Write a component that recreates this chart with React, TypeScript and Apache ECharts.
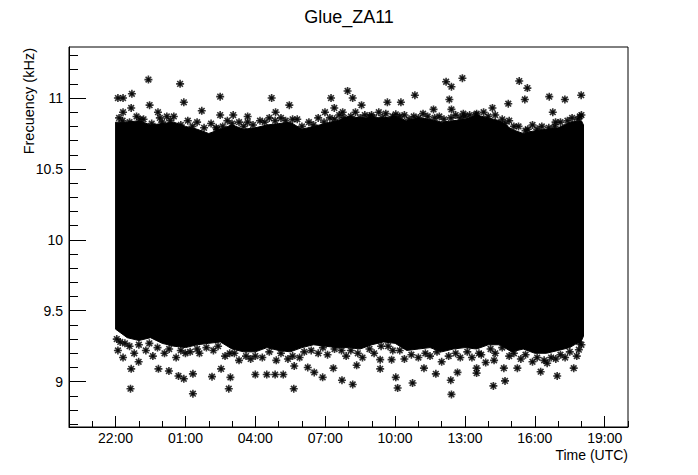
import React, { useEffect, useRef } from "react";
import * as echarts from "echarts";

const titleText = "Glue_ZA11";
const yAxisTitle = "Frecuency (kHz)";
const xAxisTitle = "Time (UTC)";

// hours counted from 00:00 of the first day (22 = 22:00, 25 = 01:00 next day)
const xRange = [20, 44];
const yRange = [8.68, 11.36];
const xMajorTicks = [22, 25, 28, 31, 34, 37, 40, 43];
const yMajorTicks = [9, 9.5, 10, 10.5, 11];
const yMinorTicks = [
  8.7, 8.8, 8.9, 9.1, 9.2, 9.3, 9.4, 9.6, 9.7, 9.8, 9.9, 10.1, 10.2, 10.3,
  10.4, 10.6, 10.7, 10.8, 10.9, 11.1, 11.2, 11.3,
];

// dense core of the measurements (outline of the saturated region)
const bandHours = [
  22.0, 22.5, 23.0, 23.5, 24.0, 24.5, 25.0, 25.5, 26.0, 26.5, 27.0, 27.5, 28.0,
  28.5, 29.0, 29.5, 30.0, 30.5, 31.0, 31.5, 32.0, 32.5, 33.0, 33.5, 34.0, 34.5,
  35.0, 35.5, 36.0, 36.5, 37.0, 37.5, 38.0, 38.5, 39.0, 39.5, 40.0, 40.5, 41.0,
  41.5, 42.0, 42.09,
];
const bandUpper = [
  10.83, 10.83, 10.84, 10.81, 10.82, 10.83, 10.8, 10.78, 10.75, 10.78, 10.81,
  10.78, 10.79, 10.81, 10.82, 10.83, 10.78, 10.8, 10.82, 10.84, 10.87, 10.86,
  10.86, 10.86, 10.87, 10.84, 10.86, 10.85, 10.83, 10.84, 10.85, 10.88, 10.86,
  10.84, 10.78, 10.75, 10.77, 10.78, 10.79, 10.83, 10.84, 10.81,
];
const bandLower = [
  9.37, 9.31, 9.29, 9.31, 9.27, 9.25, 9.24, 9.26, 9.27, 9.28, 9.23, 9.21, 9.21,
  9.24, 9.22, 9.21, 9.24, 9.26, 9.25, 9.24, 9.24, 9.23, 9.26, 9.28, 9.27, 9.22,
  9.23, 9.24, 9.21, 9.23, 9.24, 9.23, 9.26, 9.26, 9.21, 9.23, 9.2, 9.2, 9.22,
  9.24, 9.29, 9.32,
];

// isolated measurements above and below the core
const outlierHours = [
  23.41, 24.77, 22.1, 22.32, 22.7, 23.46, 22.67, 24.93, 26.49, 25.7, 26.49,
  27.05, 27.67, 27.67, 28.7, 29.46, 28.87, 31.25, 30.99, 31.39, 31.75, 26.32,
  23.82, 22.32, 31.96, 32.18, 32.56, 33.67, 34.25, 34.85, 35.65, 36.19, 36.42,
  36.89, 36.33, 36.42, 36.93, 38.18, 38.86, 39.33, 39.68, 39.57, 40.62, 41.29,
  41.99, 40.77, 41.93, 37.47, 34.03, 32.99, 40.89, 38.72, 39.7,
  22.64, 25.32, 26.86, 29.65, 31.72, 22.67, 23.84, 24.29, 24.7, 24.93, 25.32,
  26.14, 26.93, 28.0, 28.49, 28.85, 29.2, 30.25, 30.53, 30.89, 31.35, 22.32,
  22.99, 26.53, 29.67, 32.18, 32.35, 33.36, 33.36, 34.03, 34.11, 34.75, 35.24,
  35.75, 36.39, 36.68, 36.42, 37.5, 37.5, 38.22, 38.67, 38.72, 39.25, 40.25,
  40.53, 40.96, 41.67, 41.89, 37.89, 38.25, 33.85,
];
const outlierValues = [
  11.13, 11.1, 11.0, 11.0, 11.03, 10.95, 10.93, 10.97, 11.01, 10.91, 10.88,
  10.88, 10.87, 10.83, 11.0, 10.95, 10.9, 11.0, 10.9, 10.93, 10.9, 10.79, 10.9,
  10.9, 11.05, 11.0, 10.95, 10.97, 10.97, 11.02, 10.92, 11.115, 11.08, 11.14,
  10.99, 10.92, 10.89, 10.93, 10.96, 11.12, 11.07, 10.99, 11.01, 10.99, 11.02,
  10.9, 10.87, 10.88, 10.885, 10.88, 10.83, 10.82, 10.78,
  8.95, 8.915, 8.95, 8.95, 9.01, 9.09, 9.09, 9.075, 9.04, 9.02, 9.055, 9.035,
  9.03, 9.05, 9.05, 9.05, 9.05, 9.1, 9.065, 9.03, 9.095, 9.17, 9.14, 9.09,
  9.11, 8.98, 9.115, 9.09, 9.155, 9.03, 8.955, 8.99, 9.095, 9.055, 9.01, 9.065,
  8.91, 9.06, 9.095, 8.97, 9.095, 9.005, 9.095, 9.07, 9.13, 9.04, 9.095, 9.225,
  9.135, 9.15, 9.155,
];

// measurements along the ragged edge of the core
const edgeHours = [
  22.15, 22.9, 23.2, 23.9, 24.2, 24.5, 25.1, 25.5, 26.1, 26.8, 27.3, 28.2, 28.6,
  29.1, 29.8, 30.3, 30.7, 31.2, 31.6, 32.3, 32.7, 33.3, 33.6, 34.4, 34.8, 35.2,
  35.9, 36.6, 37.2, 37.8, 38.3, 38.9, 39.3, 39.9, 40.3, 41.1, 41.6, 42.0,
  22.3, 22.6, 23.05, 23.55, 24.0, 24.35, 24.8, 25.3, 25.8, 26.35, 26.6, 27.0,
  27.5, 27.9, 28.4, 28.85, 29.3, 29.6, 30.0, 30.5, 30.95, 31.4, 31.8, 32.1,
  32.5, 32.9, 33.1, 33.45, 33.9, 34.2, 34.6, 35.0, 35.4, 35.7, 36.1, 36.4, 36.8,
  37.0, 37.5, 38.0, 38.6, 39.1, 39.6, 40.1, 40.6, 40.85, 41.4, 41.85,
  22.1, 22.2, 22.8, 23.3, 23.6, 24.1, 24.6, 25.0, 25.6, 26.2, 26.7, 27.3, 27.8,
  28.3, 28.9, 29.4, 29.9, 30.7, 31.1, 31.9, 32.6, 33.1, 33.9, 34.4, 35.0, 35.5,
  36.0, 36.8, 37.3, 37.7, 38.3, 38.9, 39.4, 39.9, 40.4, 40.9, 41.3, 41.8, 42.0,
  22.05, 22.4, 22.6, 23.0, 23.45, 23.8, 24.3, 24.8, 25.2, 25.5, 25.9, 26.4,
  26.9, 27.1, 27.6, 28.0, 28.6, 29.1, 29.6, 30.1, 30.4, 30.9, 31.4, 31.7, 32.1,
  32.4, 32.9, 33.4, 33.7, 34.2, 34.7, 35.3, 35.8, 36.3, 36.6, 37.1, 37.6, 38.1,
  38.6, 39.1, 39.6, 40.1, 40.7, 41.1, 41.5, 41.9,
];
const edgeValues = [
  10.86, 10.87, 10.85, 10.86, 10.87, 10.87, 10.84, 10.83, 10.82, 10.84, 10.83,
  10.84, 10.86, 10.86, 10.85, 10.83, 10.86, 10.86, 10.88, 10.9, 10.88, 10.9,
  10.89, 10.88, 10.87, 10.89, 10.87, 10.88, 10.88, 10.9, 10.88, 10.84, 10.8,
  10.81, 10.8, 10.83, 10.86, 10.88,
  10.84, 10.83, 10.85, 10.82, 10.83, 10.84, 10.81, 10.8, 10.79, 10.78, 10.8,
  10.82, 10.8, 10.81, 10.83, 10.84, 10.84, 10.85, 10.8, 10.81, 10.83, 10.85,
  10.86, 10.87, 10.86, 10.87, 10.86, 10.86, 10.87, 10.87, 10.85, 10.86, 10.87,
  10.86, 10.85, 10.86, 10.86, 10.87, 10.89, 10.87, 10.85, 10.8, 10.77, 10.78,
  10.79, 10.8, 10.84, 10.85,
  9.22, 9.28, 9.2, 9.22, 9.18, 9.2, 9.17, 9.2, 9.2, 9.22, 9.18, 9.15, 9.16,
  9.17, 9.15, 9.16, 9.17, 9.2, 9.19, 9.18, 9.17, 9.2, 9.22, 9.16, 9.17, 9.18,
  9.14, 9.17, 9.17, 9.19, 9.2, 9.18, 9.16, 9.14, 9.15, 9.16, 9.17, 9.18, 9.26,
  9.3, 9.27, 9.25, 9.26, 9.27, 9.24, 9.23, 9.22, 9.21, 9.23, 9.24, 9.25, 9.2,
  9.2, 9.18, 9.18, 9.21, 9.2, 9.18, 9.21, 9.22, 9.24, 9.23, 9.22, 9.22, 9.2,
  9.23, 9.25, 9.25, 9.22, 9.19, 9.2, 9.21, 9.18, 9.2, 9.21, 9.2, 9.23, 9.24,
  9.2, 9.19, 9.17, 9.17, 9.19, 9.21, 9.28,
];

const FONT = "'Liberation Sans', Arial, Helvetica, sans-serif";
// eight-armed asterisk with a filled centre (ROOT marker style 3)
const STAR =
  "path://M0,-10L0,10M-10,0L10,0M-7.07,-7.07L7.07,7.07M-7.07,7.07L7.07,-7.07" +
  "M-1.6,-3.8L1.6,-3.8L3.8,-1.6L3.8,1.6L1.6,3.8L-1.6,3.8L-3.8,1.6L-3.8,-1.6Z";

const fmtHour = (v: number) => {
  const h = ((Math.round(v) % 24) + 24) % 24;
  return `${h < 10 ? "0" + h : h}:00`;
};

export default function App() {
  const ref = useRef<HTMLDivElement>(null);

  useEffect(() => {
    if (!ref.current) return;
    const chart = echarts.init(ref.current, undefined, { renderer: "svg" });

    const starStyle = {
      color: "#000",
      borderColor: "#000",
      borderWidth: 1.6,
    };

    const option: any = {
      animation: false,
      backgroundColor: "#fff",
      title: {
        text: titleText,
        left: "center",
        top: 3,
        textStyle: {
          fontFamily: FONT,
          fontSize: 18,
          fontWeight: "normal",
          color: "#000",
        },
      },
      grid: {
        left: 69,
        right: 70,
        top: 47,
        bottom: 48,
        show: true,
        borderColor: "#000",
        borderWidth: 1,
        backgroundColor: "transparent",
      },
      xAxis: [
        {
          type: "value",
          position: "bottom",
          min: xRange[0],
          max: xRange[1],
          interval: 1,
          axisLine: { show: true, onZero: false, lineStyle: { color: "#000", width: 1 } },
          axisTick: { show: true, inside: true, length: 6, lineStyle: { color: "#000" } },
          axisLabel: { show: false },
          splitLine: { show: false },
        },
        {
          type: "value",
          position: "bottom",
          min: xRange[0],
          max: xRange[1],
          axisLine: { show: false, onZero: false },
          axisTick: {
            show: true,
            inside: true,
            length: 11,
            customValues: xMajorTicks,
            lineStyle: { color: "#000" },
          },
          axisLabel: {
            show: true,
            customValues: xMajorTicks,
            formatter: fmtHour,
            margin: 4,
            fontFamily: FONT,
            fontSize: 14,
            color: "#000",
          },
          splitLine: { show: false },
        },
      ],
      yAxis: [
        {
          type: "value",
          position: "left",
          min: yRange[0],
          max: yRange[1],
          axisLine: { show: true, onZero: false, lineStyle: { color: "#000", width: 1 } },
          axisTick: {
            show: true,
            inside: true,
            length: 9,
            customValues: yMinorTicks,
            lineStyle: { color: "#000" },
          },
          axisLabel: { show: false },
          splitLine: { show: false },
        },
        {
          type: "value",
          position: "left",
          min: yRange[0],
          max: yRange[1],
          axisLine: { show: false, onZero: false },
          axisTick: {
            show: true,
            inside: true,
            length: 17,
            customValues: yMajorTicks,
            lineStyle: { color: "#000" },
          },
          axisLabel: {
            show: true,
            customValues: yMajorTicks,
            margin: 6,
            fontFamily: FONT,
            fontSize: 14,
            color: "#000",
          },
          splitLine: { show: false },
        },
      ],
      graphic: [
        {
          type: "text",
          x: 29,
          y: 48,
          rotation: Math.PI / 2,
          style: {
            text: yAxisTitle,
            fontFamily: FONT,
            fontSize: 14.5,
            fill: "#000",
            align: "right",
            verticalAlign: "middle",
          },
        },
        {
          type: "text",
          x: 628,
          y: 455,
          style: {
            text: xAxisTitle,
            fontFamily: FONT,
            fontSize: 14,
            fill: "#000",
            align: "right",
            verticalAlign: "middle",
          },
        },
      ],
      series: [
        {
          type: "custom",
          xAxisIndex: 0,
          yAxisIndex: 0,
          data: [[bandHours[0], bandUpper[0]]],
          clip: true,
          silent: true,
          renderItem: (_params: any, api: any) => {
            const pts: number[][] = [];
            for (let i = 0; i < bandHours.length; i++) {
              pts.push(api.coord([bandHours[i], bandUpper[i]]));
            }
            for (let i = bandHours.length - 1; i >= 0; i--) {
              pts.push(api.coord([bandHours[i], bandLower[i]]));
            }
            return {
              type: "polygon",
              shape: { points: pts },
              style: { fill: "#000", stroke: "#000", lineWidth: 1 },
            };
          },
        },
        {
          type: "scatter",
          xAxisIndex: 0,
          yAxisIndex: 0,
          symbol: STAR,
          symbolSize: 8,
          itemStyle: starStyle,
          data: edgeHours.map((h, i) => [h, edgeValues[i]]),
          silent: true,
        },
        {
          type: "scatter",
          xAxisIndex: 0,
          yAxisIndex: 0,
          symbol: STAR,
          symbolSize: 8,
          itemStyle: starStyle,
          data: outlierHours.map((h, i) => [h, outlierValues[i]]),
          silent: true,
        },
      ],
    };

    chart.setOption(option);
    return () => chart.dispose();
  }, []);

  return (
    <div
      ref={ref}
      style={{
        position: "fixed",
        left: 0,
        top: 0,
        width: 698,
        height: 475,
        background: "#fff",
      }}
    />
  );
}
